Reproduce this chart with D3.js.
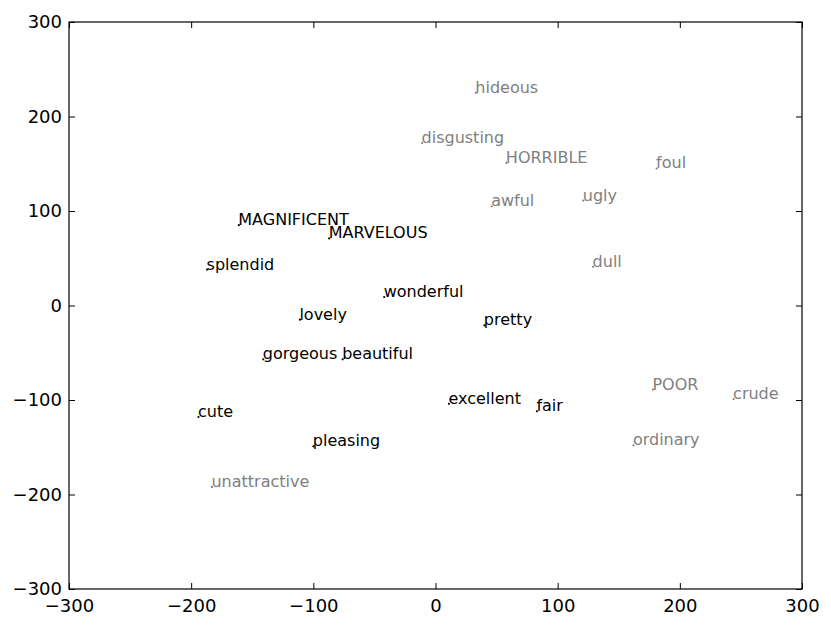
<!DOCTYPE html>
<html>
<head>
<meta charset="utf-8">
<script src="https://cdn.jsdelivr.net/npm/d3@7"></script>
<style>
  html, body { margin: 0; padding: 0; background: #fff; }
  svg { display: block; }
</style>
</head>
<body>
<svg id="chart" width="831" height="629"></svg>
<script>
// ---- data ----
const words = ["hideous","disgusting","HORRIBLE","foul","awful","ugly","dull",
  "MAGNIFICENT","MARVELOUS","splendid","wonderful","lovely","gorgeous","beautiful",
  "pretty","excellent","fair","cute","pleasing","unattractive","POOR","crude","ordinary"];
const xValues = [33, -11, 58, 181, 46, 121, 129,
  -161, -87, -187, -42, -111, -141, -76,
  40, 11, 83, -194, -100, -183, 178, 244, 162];
const yValues = [225, 172, 151, 145, 105, 111, 41,
  85, 71, 38, 9, -15, -57, -57,
  -21, -104, -112, -118, -149, -192, -89, -99, -148];
const groups = ["neg","neg","neg","neg","neg","neg","neg",
  "pos","pos","pos","pos","pos","pos","pos",
  "pos","pos","pos","pos","pos","neg","neg","neg","neg"];
const xTicks = [-300, -200, -100, 0, 100, 200, 300];
const yTicks = [-300, -200, -100, 0, 100, 200, 300];

// ---- layout ----
const svg = d3.select("#chart");
const mLeft = 69, mRight = 802, mTop = 22, mBottom = 589;
const x = d3.scaleLinear().domain([-300, 300]).range([mLeft, mRight]);
const y = d3.scaleLinear().domain([-300, 300]).range([mBottom, mTop]);
const color = d3.scaleOrdinal().domain(["pos","neg"]).range(["#000000","#808080"]);
const font = "'DejaVu Sans', sans-serif";
const tickLen = 6;
const fmt = d => String(d).replace("-", "\u2212");

// axes (inward ticks on all sides)
const axB = d3.axisBottom(x).tickValues(xTicks).tickSizeInner(-tickLen).tickSizeOuter(0).tickPadding(10).tickFormat(fmt);
const axT = d3.axisTop(x).tickValues(xTicks).tickSizeInner(-tickLen).tickSizeOuter(0).tickFormat("");
const axL = d3.axisLeft(y).tickValues(yTicks).tickSizeInner(-tickLen).tickSizeOuter(0).tickPadding(7).tickFormat(fmt);
const axR = d3.axisRight(y).tickValues(yTicks).tickSizeInner(-tickLen).tickSizeOuter(0).tickFormat("");

function style(g) {
  g.selectAll(".domain").remove();
  g.selectAll(".tick line").attr("stroke", "#000").attr("stroke-width", 1);
  g.selectAll(".tick text").attr("fill", "#000").style("font-family", font).style("font-size", "18px");
}
svg.append("g").attr("transform", `translate(0,${mBottom})`).call(axB).call(style);
svg.append("g").attr("transform", `translate(0,${mTop})`).call(axT).call(style);
svg.append("g").attr("transform", `translate(${mLeft},0)`).call(axL).call(style);
svg.append("g").attr("transform", `translate(${mRight},0)`).call(axR).call(style);

// frame
svg.append("rect")
  .attr("x", mLeft).attr("y", mTop)
  .attr("width", mRight - mLeft).attr("height", mBottom - mTop)
  .attr("fill", "none").attr("stroke", "#000").attr("stroke-width", 1.2);

// points and labels
const data = words.map((w, i) => ({ w, x: xValues[i], y: yValues[i], g: groups[i] }));
const pts = svg.append("g");
pts.selectAll("circle").data(data).join("circle")
  .attr("cx", d => x(d.x)).attr("cy", d => y(d.y)).attr("r", 1.1)
  .attr("fill", d => color(d.g));
pts.selectAll("text").data(data).join("text")
  .attr("x", d => x(d.x)).attr("y", d => y(d.y)).attr("dx", -0.5)
  .attr("fill", d => color(d.g))
  .style("font-family", font).style("font-size", "16px")
  .text(d => d.w);
</script>
</body>
</html>
